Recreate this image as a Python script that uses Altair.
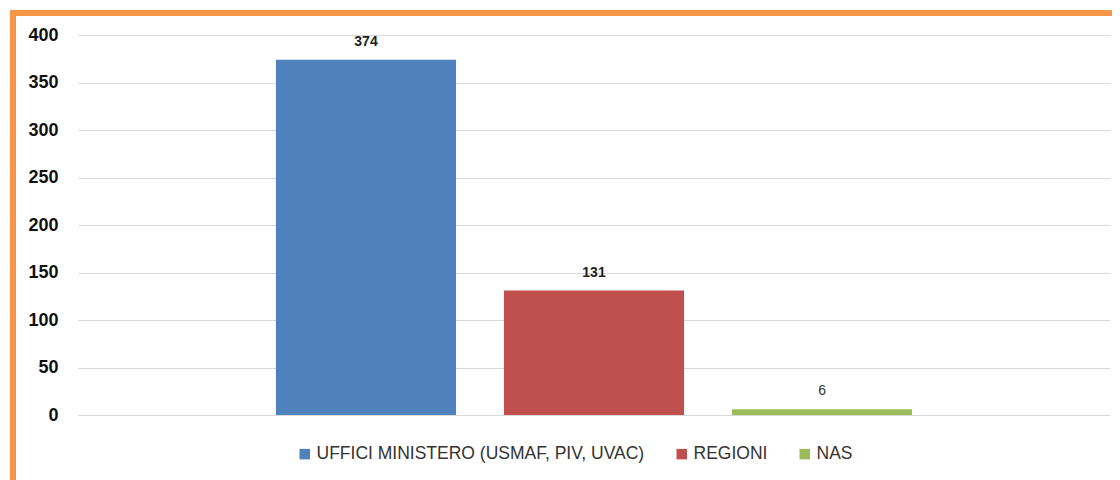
import altair as alt
import pandas as pd

categories = ["UFFICI MINISTERO (USMAF, PIV, UVAC)", "REGIONI", "NAS"]
values = [374, 131, 6]
colors = ["#4f81bd", "#c0504d", "#9bbb59"]
y_ticks = [0, 50, 100, 150, 200, 250, 300, 350, 400]

df = pd.DataFrame({"categoria": categories, "valore": values})

W, H = 1032, 380
FONT = "Liberation Sans"

x_enc = alt.X("categoria:N", sort=categories, axis=None,
              scale=alt.Scale(paddingInner=0.21, paddingOuter=0.868))

base = alt.Chart(df)

bars = base.mark_bar().encode(
    x=x_enc,
    y=alt.Y("valore:Q", scale=alt.Scale(domain=[0, 400], nice=False),
            axis=alt.Axis(values=y_ticks, title=None, grid=True, gridColor="#d9d9d9",
                          gridWidth=1, domain=False, ticks=False, labelPadding=20,
                          labelFont=FONT, labelFontSize=18, labelFontWeight="bold",
                          labelColor="#111111")),
    color=alt.Color("categoria:N", sort=categories,
                    scale=alt.Scale(domain=categories, range=colors),
                    legend=alt.Legend(orient="none", legendX=218, legendY=410,
                                      direction="horizontal", title=None,
                                      symbolType="square", symbolSize=110,
                                      symbolStrokeWidth=0, labelFont=FONT,
                                      labelFontSize=17.5, labelColor="#333333",
                                      labelLimit=0, columnPadding=28, labelOffset=3)),
)

labels_bold = base.transform_filter(alt.datum.valore > 50).mark_text(
    font=FONT, fontSize=14, fontWeight="bold", color="#222222",
    baseline="middle", dy=-18
).encode(x=x_enc, y="valore:Q", text="valore:Q")

labels_norm = base.transform_filter(alt.datum.valore <= 50).mark_text(
    font=FONT, fontSize=14, color="#333333", baseline="middle", dy=-18
).encode(x=x_enc, y="valore:Q", text="valore:Q")

border_top = alt.Chart(df).mark_rect(color="#f79646", clip=False).encode(
    x=alt.value(-68), x2=alt.value(1050), y=alt.value(-25), y2=alt.value(-19))
border_left = alt.Chart(df).mark_rect(color="#f79646", clip=False).encode(
    x=alt.value(-68), x2=alt.value(-62), y=alt.value(-25), y2=alt.value(460))

chart = alt.layer(bars, labels_bold, labels_norm, border_top, border_left).properties(
    width=W, height=H,
    background="white",
    autosize=alt.AutoSizeParams(type="none"),
    padding={"left": 70, "top": 27, "right": 2, "bottom": 65},
).configure_view(stroke=None)

chart.save("out.html", embed_options={"renderer": "svg", "actions": False})
